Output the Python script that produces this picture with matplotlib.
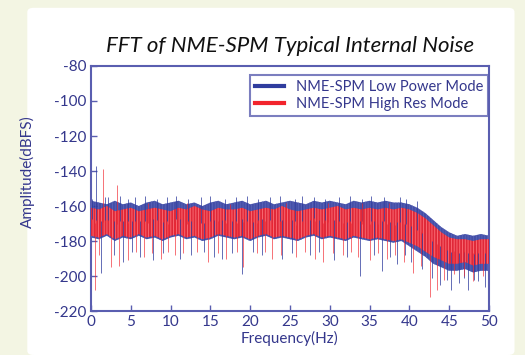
import numpy as np
import matplotlib.pyplot as plt
from matplotlib.patches import FancyBboxPatch

plt.rcParams["axes.unicode_minus"] = False
plt.rcParams["hatch.linewidth"] = 0.6

# ----------------------------------
# Data
# ----------------------------------
freq = list(range(0, 51))

# edges of the dense noise band, Low Power Mode (blue)
blue_top = [-157, -158, -159, -157, -159, -158, -160, -158, -157, -159,
            -158, -157, -159, -158, -160, -158, -157, -159, -158, -157,
            -159, -158, -157, -159, -158, -157, -158, -159, -157, -158,
            -157, -158, -159, -157, -158, -157, -158, -157, -158, -158,
            -159, -161, -164, -168, -172, -175, -177, -176, -177, -176, -177]
blue_bot = [-178, -179, -177, -180, -178, -179, -177, -179, -178, -180,
            -178, -177, -179, -178, -180, -179, -177, -178, -179, -178,
            -180, -178, -177, -179, -178, -179, -180, -178, -177, -179,
            -178, -179, -180, -178, -179, -180, -179, -180, -181, -180,
            -183, -186, -189, -193, -195, -197, -197, -196, -198, -197, -197]

# edges of the dense noise band, High Res Mode (red)
red_top = [-161, -162, -160, -163, -162, -161, -163, -162, -161, -162,
           -163, -161, -162, -160, -162, -163, -161, -162, -162, -161,
           -163, -162, -161, -162, -160, -162, -163, -162, -161, -162,
           -161, -160, -162, -161, -162, -161, -162, -161, -162, -161,
           -162, -164, -167, -171, -175, -178, -179, -179, -180, -179, -179]
red_bot = [-177, -178, -176, -179, -177, -178, -176, -178, -177, -179,
           -177, -176, -178, -177, -179, -178, -176, -177, -178, -177,
           -179, -177, -176, -178, -177, -178, -179, -177, -176, -178,
           -177, -178, -179, -177, -178, -179, -178, -179, -180, -179,
           -181, -183, -186, -189, -191, -193, -193, -192, -194, -193, -193]

# single spikes sticking out of the band
blue_spike_f = [0.1, 0.6, 1.8, 2.2, 3.6, 4.6, 5.5, 6.8, 8.3, 9.5, 10.7, 12.2, 13.8, 15.0,
                16.8, 18.2, 19.6, 21.0, 22.5, 23.7, 25.6, 26.5, 28.0, 29.4, 31.2, 32.6,
                34.1, 35.2, 36.8, 38.8, 39.6, 41.0,
                1.3, 2.9, 4.0, 5.1, 6.2, 7.8, 9.1, 11.2, 12.6, 14.2, 15.4, 16.5, 17.7,
                19.0, 20.3, 21.5, 24.0, 25.2, 27.5, 28.7, 30.5, 32.2, 33.8, 35.6, 36.5,
                37.6, 38.4, 39.5, 40.2, 41.6, 42.9, 43.8, 44.7, 45.2, 46.2, 46.9, 47.4,
                48.1, 48.6, 49.5]
blue_spike_v = [-156, -137, -155, -155, -154, -156, -155, -154, -156, -155, -154, -156,
                -155, -154, -156, -155, -154, -156, -155, -154, -156, -154, -155, -156,
                -155, -154, -156, -154, -155, -155, -156, -157,
                -198, -188, -192, -186, -189, -191, -187, -190, -188, -186, -189, -190, -187,
                -199, -186, -188, -190, -187, -188, -186, -191, -189, -200, -188, -197,
                -189, -193, -188, -192, -196, -201, -205, -202, -208, -204, -201, -208,
                -202, -203, -206]

red_spike_f = [1.5, 3.3, 7.2, 12.0, 17.5, 24.5, 29.8, 34.0, 37.5,
               0.5, 1.0, 2.5, 3.5, 4.7, 5.6, 6.6, 7.7, 8.8, 9.7, 10.5, 11.6, 13.3, 14.7,
               15.9, 17.0, 18.3, 19.1, 20.8, 21.9, 22.8, 23.9, 25.8, 26.9, 28.2, 29.2,
               30.4, 31.6, 32.7, 33.5, 35.0, 36.1, 37.2, 38.2, 39.3, 40.5, 41.4, 42.6,
               43.5, 44.4, 45.6, 46.8, 48.0, 49.2]
red_spike_v = [-139, -148, -158, -158, -159, -158, -158, -158, -158,
               -208, -188, -195, -194, -191, -186, -189, -187, -190, -186, -188, -187,
               -186, -192, -187, -190, -186, -195, -187, -186, -190, -188, -189, -186,
               -190, -192, -187, -188, -186, -189, -191, -187, -190, -188, -192, -198,
               -194, -212, -208, -202, -199, -200, -203, -200]

x_ticks = [0, 5, 10, 15, 20, 25, 30, 35, 40, 45, 50]
y_ticks = [-80, -100, -120, -140, -160, -180, -200, -220]

blue = "#2f3c9e"
red = "#f2242c"
axis_col = "#5a5eb0"
text_col = "#34378c"
font = ["Lato", "DejaVu Sans"]

# ----------------------------------
# Figure with cream backdrop and white card
# ----------------------------------
fig = plt.figure(figsize=(5.25, 3.55), dpi=100, facecolor="#f3f5e3")
card = FancyBboxPatch((0.052, 0.0), 0.928, 0.978, boxstyle="round,pad=0,rounding_size=0.012",
                      transform=fig.transFigure, facecolor="white", edgecolor="none", zorder=0)
fig.patches.append(card)

ax = fig.add_axes([0.1733, 0.1239, 0.7581, 0.6902])
ax.set_zorder(2)
ax.set_facecolor("white")

# dense noise bands, vertical hatching for the fine noise texture
f = np.array(freq)
ax.fill_between(f, blue_bot, blue_top, facecolor=blue, edgecolor="#5a66bb",
                hatch="||||||", lw=0, alpha=0.9, zorder=2)
ax.fill_between(f, red_bot, red_top, facecolor=red, edgecolor="#ff7a80",
                hatch="||||||", lw=0, alpha=0.9, zorder=3)

blue_mid = (np.array(blue_top) + np.array(blue_bot)) / 2
red_mid = (np.array(red_top) + np.array(red_bot)) / 2
ax.vlines(blue_spike_f, np.interp(blue_spike_f, f, blue_mid), blue_spike_v,
          color=blue, lw=0.7, alpha=0.75, zorder=4)
ax.vlines(red_spike_f, np.interp(red_spike_f, f, red_mid), red_spike_v,
          color=red, lw=0.7, alpha=0.65, zorder=5)

# legend handles
ax.plot([], [], color=blue, lw=3, label="NME-SPM Low Power Mode")
ax.plot([], [], color=red, lw=3, label="NME-SPM High Res Mode")

ax.set_xlim(0, 50)
ax.set_ylim(-220, -80)
ax.set_xticks(x_ticks)
ax.set_yticks(y_ticks)
ax.tick_params(direction="in", length=4, width=1, color=axis_col, labelcolor=text_col,
               labelsize=11, pad=3)
for lab in ax.get_xticklabels() + ax.get_yticklabels():
    lab.set_family(font)
for sp in ax.spines.values():
    sp.set_color(axis_col)
    sp.set_linewidth(1.5)

ax.set_xlabel("Frequency(Hz)", color=text_col, fontsize=11, family=font, labelpad=1)
ax.set_ylabel("Amplitude(dBFS)", color=text_col, fontsize=11, family=font)
ax.yaxis.set_label_coords(-0.141, 0.567)
ax.set_title("FFT of NME-SPM Typical Internal Noise", fontsize=16, style="italic",
             family=font, color="#111111", pad=10)

leg = ax.legend(loc="upper right", bbox_to_anchor=(0.998, 0.963), borderaxespad=0,
                fancybox=False, frameon=True, handlelength=2.0, borderpad=0.35,
                labelspacing=0.2, prop={"family": font, "size": 10.5})
leg.get_frame().set_edgecolor(axis_col)
leg.get_frame().set_linewidth(1.5)
for t in leg.get_texts():
    t.set_color(text_col)

fig.savefig("out.png", dpi=100, facecolor=fig.get_facecolor())
